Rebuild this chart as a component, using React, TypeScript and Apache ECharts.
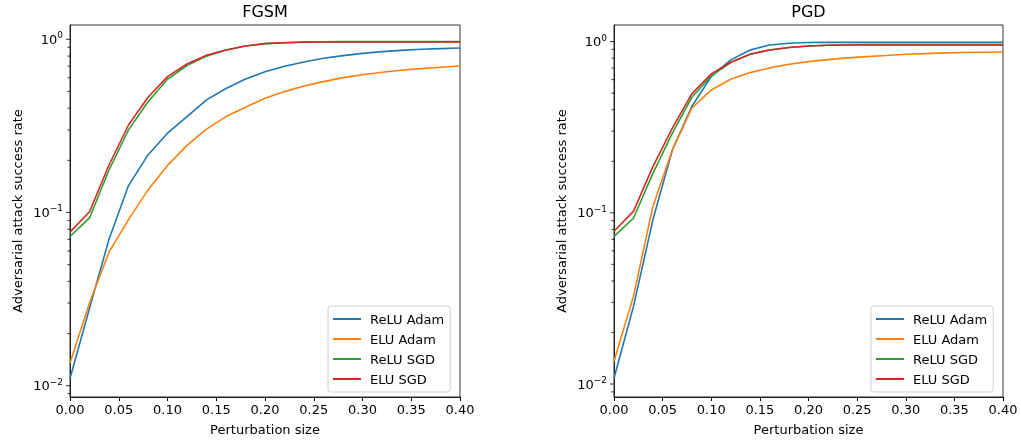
import React, { useEffect, useRef } from "react";
import * as echarts from "echarts";

const xs = [0, 0.02, 0.04, 0.06, 0.08, 0.1, 0.12, 0.14, 0.16, 0.18, 0.2, 0.22, 0.24, 0.26, 0.28, 0.3, 0.32, 0.34, 0.36, 0.38, 0.4];

const seriesNames = ["ReLU Adam", "ELU Adam", "ReLU SGD", "ELU SGD"];
const colors = ["#1f77b4", "#ff7f0e", "#2ca02c", "#d62728"];

const fgsmReluAdam = [0.011, 0.028, 0.07, 0.143, 0.215, 0.287, 0.358, 0.447, 0.52, 0.59, 0.65, 0.7, 0.74, 0.777, 0.805, 0.83, 0.849, 0.864, 0.876, 0.884, 0.891];
const fgsmEluAdam = [0.0135, 0.03, 0.059, 0.091, 0.135, 0.187, 0.244, 0.303, 0.358, 0.405, 0.457, 0.499, 0.538, 0.57, 0.601, 0.625, 0.645, 0.663, 0.677, 0.69, 0.702];
const fgsmReluSgd = [0.0727, 0.093, 0.176, 0.3, 0.436, 0.588, 0.705, 0.8, 0.867, 0.915, 0.944, 0.956, 0.965, 0.968, 0.97, 0.97, 0.97, 0.97, 0.97, 0.97, 0.97];
const fgsmEluSgd = [0.077, 0.101, 0.188, 0.32, 0.463, 0.609, 0.72, 0.81, 0.867, 0.915, 0.944, 0.956, 0.963, 0.965, 0.965, 0.965, 0.965, 0.965, 0.965, 0.965, 0.965];

const pgdReluAdam = [0.0108, 0.0284, 0.091, 0.233, 0.418, 0.625, 0.782, 0.894, 0.956, 0.978, 0.987, 0.99, 0.99, 0.99, 0.99, 0.99, 0.99, 0.99, 0.99, 0.99, 0.99];
const pgdEluAdam = [0.0136, 0.0325, 0.109, 0.233, 0.408, 0.522, 0.603, 0.659, 0.702, 0.738, 0.764, 0.785, 0.803, 0.817, 0.829, 0.844, 0.851, 0.859, 0.863, 0.867, 0.87];
const pgdReluSgd = [0.0728, 0.093, 0.17, 0.292, 0.473, 0.63, 0.754, 0.843, 0.894, 0.923, 0.943, 0.952, 0.958, 0.96, 0.96, 0.96, 0.96, 0.96, 0.96, 0.96, 0.96];
const pgdEluSgd = [0.078, 0.102, 0.186, 0.312, 0.495, 0.648, 0.757, 0.843, 0.894, 0.923, 0.943, 0.952, 0.955, 0.955, 0.955, 0.955, 0.955, 0.955, 0.955, 0.955, 0.955];

const yMajorTicks = [0.01, 0.1, 1];
const yMinorTicks = [0.009, 0.02, 0.03, 0.04, 0.05, 0.06, 0.07, 0.08, 0.09, 0.2, 0.3, 0.4, 0.5, 0.6, 0.7, 0.8, 0.9];

const panels = [
  { title: "FGSM", data: [fgsmReluAdam, fgsmEluAdam, fgsmReluSgd, fgsmEluSgd], yMin: 0.0086, yMax: 1.21 },
  { title: "PGD", data: [pgdReluAdam, pgdEluAdam, pgdReluSgd, pgdEluSgd], yMin: 0.0084, yMax: 1.25 },
];

const FONT = "'DejaVu Sans', sans-serif";

export default function App() {
  const ref = useRef<HTMLDivElement>(null);
  useEffect(() => {
    if (!ref.current) return;
    const chart = echarts.init(ref.current, null, { renderer: "svg" });
    const grids = [
      { left: 70, top: 25, width: 390, height: 372 },
      { left: 614, top: 25, width: 389, height: 372 },
    ];
    const supLabel = (v: number) => {
      const e = Math.log10(v);
      const r = Math.round(e);
      if (Math.abs(e - r) > 1e-6) return "";
      const s = r < 0 ? "\u2212" + Math.abs(r) : String(r);
      return "{b|10}{s|" + s + "}";
    };
    const series: any[] = [];
    panels.forEach((p, pi) => {
      p.data.forEach((arr, si) => {
        series.push({
          type: "line",
          name: seriesNames[si],
          xAxisIndex: pi,
          yAxisIndex: pi,
          data: xs.map((x, i) => [x, arr[i]]),
          showSymbol: false,
          symbol: "none",
          lineStyle: { width: 1.6, color: colors[si] },
          itemStyle: { color: colors[si] },
          z: 2 + si,
        });
      });
      const tickSeries = (vals: number[], len: number) => ({
        type: "scatter",
        name: "ticks" + pi + "_" + len,
        xAxisIndex: pi,
        yAxisIndex: pi,
        clip: false,
        silent: true,
        symbol: "rect",
        symbolSize: [len, 1.1],
        symbolOffset: [-len / 2, 0],
        itemStyle: { color: "#111" },
        data: vals.map((v) => [0, v]),
        z: 10,
      });
      series.push(tickSeries(yMajorTicks, 4));
      series.push(tickSeries(yMinorTicks, 2.5));
    });
    const option: any = {
      animation: false,
      textStyle: { fontFamily: FONT },
      title: panels.map((p, i) => ({
        text: p.title,
        left: grids[i].left + grids[i].width / 2,
        textAlign: "center",
        top: 3,
        padding: 0,
        textStyle: { fontFamily: FONT, fontSize: 16, fontWeight: "normal", color: "#000" },
      })),
      grid: grids.map((g) => ({
        ...g,
        show: true,
        borderColor: "#000",
        borderWidth: 0.8,
        backgroundColor: "transparent",
        containLabel: false,
      })),
      legend: panels.map((p, i) => ({
        data: seriesNames,
        orient: "vertical",
        left: i === 0 ? 328 : 871,
        top: 306,
        icon: "rect",
        itemWidth: 28,
        itemHeight: 2,
        itemGap: 6,
        padding: [6, 6, 6, 5],
        borderColor: "#d0d0d0",
        borderWidth: 1,
        borderRadius: 3,
        backgroundColor: "rgba(255,255,255,0.8)",
        selectedMode: false,
        textStyle: { fontFamily: FONT, fontSize: 13, color: "#000", lineHeight: 14, padding: [0, 0, 0, 4] },
      })),
      xAxis: panels.map((p, i) => ({
        type: "value",
        gridIndex: i,
        min: 0,
        max: 0.4,
        interval: 0.05,
        name: "Perturbation size",
        nameLocation: "middle",
        nameGap: 26,
        nameTextStyle: { fontFamily: FONT, fontSize: 13, color: "#000" },
        axisLine: { show: true, lineStyle: { color: "#000", width: 0.8 } },
        axisTick: { show: true, length: 4, lineStyle: { color: "#000", width: 1 } },
        axisLabel: {
          fontFamily: FONT,
          fontSize: 13,
          color: "#000",
          margin: 6,
          formatter: (v: number) => v.toFixed(2),
          showMinLabel: true,
          showMaxLabel: true,
        },
        splitLine: { show: false },
      })),
      yAxis: panels.map((p, i) => ({
        type: "log",
        logBase: 10,
        gridIndex: i,
        min: p.yMin,
        max: p.yMax,
        name: "Adversarial attack success rate",
        nameLocation: "middle",
        nameGap: 46,
        nameTextStyle: { fontFamily: FONT, fontSize: 13, color: "#000" },
        axisLine: { show: true, lineStyle: { color: "#000", width: 0.8 } },
        axisTick: { show: false },
        axisLabel: {
          fontFamily: FONT,
          color: "#000",
          margin: 7,
          formatter: supLabel,
          rich: {
            b: { fontFamily: FONT, fontSize: 13, color: "#000" },
            s: { fontFamily: FONT, fontSize: 9, color: "#000", verticalAlign: "top", padding: [0, 0, 8, 0] },
          },
        },
        splitLine: { show: false },
        minorTick: { show: false },
      })),
      series,
    };
    chart.setOption(option);
    return () => chart.dispose();
  }, []);
  return <div ref={ref} style={{ position: "fixed", left: 0, top: 0, width: 1021, height: 443 }} />;
}
